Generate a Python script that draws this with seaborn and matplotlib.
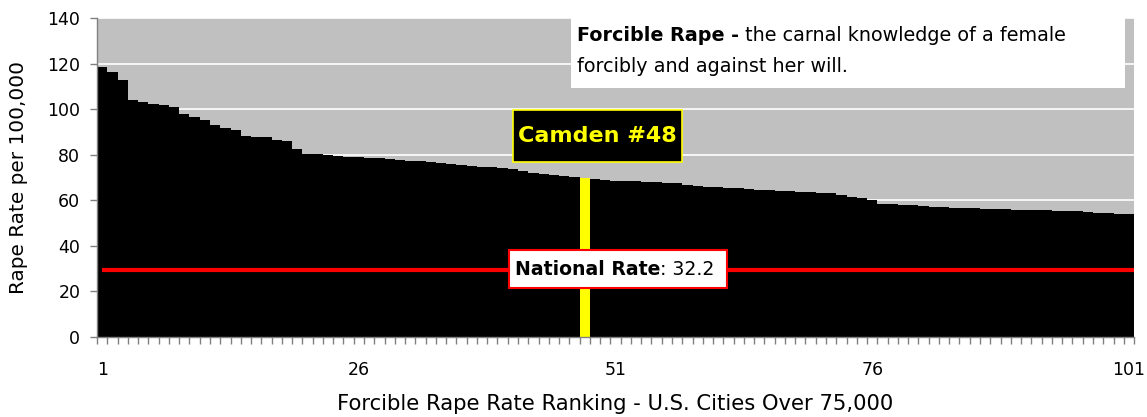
import numpy as np
import pandas as pd
import matplotlib
matplotlib.use("Agg")
import matplotlib.pyplot as plt
from matplotlib.patches import Rectangle
from matplotlib.ticker import FixedLocator
import seaborn as sns

# --- Dados ---
ranks = list(range(1, 102))
rates = [
    118.6, 116.1, 112.6, 103.9, 103.1, 102.4, 101.7, 100.9, 97.7, 96.4,
    95.1, 92.9, 91.6, 91.0, 88.1, 87.9, 87.6, 86.6, 85.9, 82.5,
    80.4, 80.3, 80.0, 79.6, 79.2, 78.9, 78.7, 78.4, 78.0, 77.7,
    77.4, 77.1, 76.8, 76.4, 75.9, 75.5, 75.1, 74.8, 74.6, 74.3,
    73.6, 73.0, 72.2, 71.5, 71.0, 70.7, 70.3, 69.8, 69.2, 68.8,
    68.6, 68.4, 68.3, 68.1, 68.0, 67.8, 67.4, 66.9, 66.4, 66.0,
    65.7, 65.4, 65.2, 64.9, 64.6, 64.4, 64.1, 63.9, 63.7, 63.5,
    63.3, 63.1, 62.5, 61.6, 60.8, 60.1, 58.4, 58.2, 58.0, 57.8,
    57.5, 57.2, 56.9, 56.8, 56.6, 56.5, 56.3, 56.1, 56.0, 55.9,
    55.8, 55.7, 55.6, 55.5, 55.3, 55.1, 54.9, 54.6, 54.3, 54.1,
    53.8,
]
camden_rank = 48
national_rate_label = "32.2"
national_line = 29.6  # posição da linha vermelha no gráfico
tick_ranks = [1, 26, 51, 76, 101]

df = pd.DataFrame({"rank": ranks, "rate": rates})
df["city"] = np.where(df["rank"] == camden_rank, "Camden", "Outra")

# --- Figura ---
fig = plt.figure(figsize=(11.47, 4.17), dpi=100)
ax = fig.add_axes([0.0846, 0.1918, 0.9041, 0.765])
ax.set_facecolor("#C0C0C0")

sns.barplot(data=df, x="rank", y="rate", hue="city",
            palette={"Outra": "black", "Camden": "#FFFF00"},
            width=1.0, dodge=False, legend=False, saturation=1,
            linewidth=0, ax=ax, zorder=2)

ax.set_xlim(-0.5, len(ranks) - 0.5)
ax.set_ylim(0, 140)
ax.set_yticks(range(0, 141, 20))
ax.yaxis.grid(True, color="white", linewidth=1.2, zorder=0)
ax.set_axisbelow(True)

# ticks do eixo x: rótulos nos centros, marcas nas divisões
ax.set_xticks([r - 1 for r in tick_ranks])
ax.set_xticklabels([str(r) for r in tick_ranks])
ax.xaxis.set_minor_locator(FixedLocator(np.arange(-0.5, len(ranks), 1.0)))
ax.tick_params(axis="x", which="major", length=0, pad=17, labelsize=12.5)
ax.tick_params(axis="x", which="minor", length=5, width=1, color="#808080",
               direction="out")
ax.tick_params(axis="y", length=5, width=1, color="#808080", labelsize=12.5,
               pad=7)

for s in ["top", "right"]:
    ax.spines[s].set_visible(False)
for s in ["left", "bottom"]:
    ax.spines[s].set_color("#808080")
    ax.spines[s].set_linewidth(1)

ax.set_xlabel("Forcible Rape Rate Ranking - U.S. Cities Over 75,000",
              fontsize=15.2, labelpad=11)
ax.set_ylabel("Rape Rate per 100,000", fontsize=14.4, labelpad=14)

# linha da taxa nacional
ax.hlines(national_line, 0, len(ranks) - 0.5, color="#FF0000", linewidth=3,
          zorder=3)

# caixa "National Rate"
ax.add_patch(Rectangle((39.6, 21.5), 21.3, 16.7, facecolor="white",
                       edgecolor="#FF0000", linewidth=1.5, zorder=4))
t1 = ax.text(40.2, national_line, "National Rate", fontsize=13.6,
             fontweight="bold", va="center", ha="left", zorder=5)
ax.annotate(": " + national_rate_label, xy=(1, 0.5), xycoords=t1,
            va="center", ha="left", fontsize=13.6, zorder=5)

# caixa "Camden #48"
ax.add_patch(Rectangle((40.0, 76.8), 16.5, 22.8, facecolor="black",
                       edgecolor="#FFFF00", linewidth=1.2, zorder=4))
ax.text(48.25, 88.2, f"Camden #{camden_rank}", color="#FFFF00",
        fontsize=16, fontweight="bold", ha="center", va="center", zorder=5)

# caixa de definição
ax.add_patch(Rectangle((0.457, 0.78), 0.534, 0.225, transform=ax.transAxes,
                       facecolor="white", edgecolor="none", zorder=4,
                       clip_on=False))
t2 = ax.text(0.463, 0.945, "Forcible Rape -", transform=ax.transAxes,
             fontsize=13.8, fontweight="bold", va="center", ha="left",
             zorder=5)
ax.annotate(" the carnal knowledge of a female", xy=(1, 0.5), xycoords=t2,
            va="center", ha="left", fontsize=13.8, zorder=5)
ax.text(0.463, 0.848, "forcibly and against her will.",
        transform=ax.transAxes, fontsize=13.8, va="center", ha="left",
        zorder=5)

fig.savefig("out.png", dpi=100)
plt.close(fig)
